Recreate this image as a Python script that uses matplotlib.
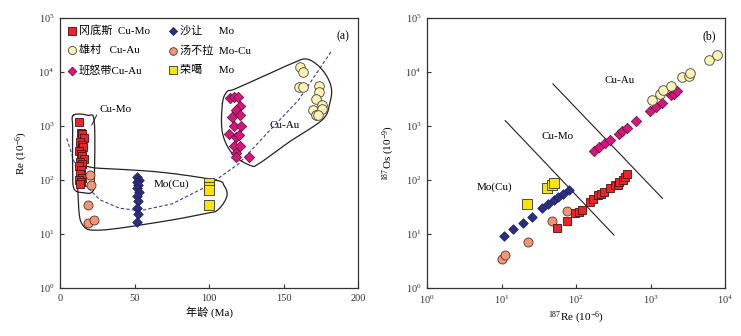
import numpy as np
import matplotlib
matplotlib.use("Agg")
import matplotlib.pyplot as plt

plt.rcParams['font.family'] = ['Liberation Serif', 'Noto Sans CJK SC']
plt.rcParams['mathtext.fontset'] = 'custom'
plt.rcParams['mathtext.rm'] = 'Liberation Serif'
plt.rcParams['mathtext.it'] = 'Liberation Serif'

# ---------------- Panel (a) data: age (Ma) vs Re (ppm) ----------------
gds_age = [13, 14, 15, 16, 13.5, 14.5, 15.5, 13, 14, 15, 16, 13.5, 14.5, 13, 14, 13.5, 14.5, 13, 14, 13.5]
gds_re = [1200, 750, 700, 600, 500, 450, 400, 350, 300, 280, 250, 220, 200, 180, 150, 130, 110, 100, 90, 85]

sr_age = [52, 53, 51.5, 52.5, 52, 53, 52, 52.5, 52, 52.5, 52]
sr_re = [115, 100, 90, 80, 70, 60, 50, 40, 30, 23, 17]

xc_age = [161, 163, 160.4, 163, 173.8, 173.8, 172, 175.6, 170, 172, 176, 173]
xc_re = [12600, 9800, 5250, 5250, 5500, 4200, 3100, 2400, 2000, 1600, 2100, 1620]

tbl_age = [20, 20.5, 19, 19, 23]
tbl_re = [123, 80, 35, 16, 18]

bnd_age = [114, 117, 119.6, 121, 118, 120.5, 115.6, 116.7, 121.8, 113.5, 118.2, 120.4, 117, 121, 118, 126.7, 118]
bnd_re = [3240, 3470, 3470, 2340, 2000, 1580, 1480, 980, 980, 720, 630, 680, 420, 420, 310, 270, 270]

rg_age = [100, 100, 100, 100]
rg_re = [88, 75, 65, 34]

# guide curve (a)
curve_age = [4.5, 13.4, 26.8, 40, 53.7, 75, 98.5, 120, 138.7, 160, 182]
curve_re = [590, 100, 43, 30, 27, 36, 76, 200, 720, 3000, 24000]

# outlines (a): (age, Re)
cumo_outline = [(9, 1580), (18.5, 1580), (23, 1200), (23, 100), (21.5, 60), (16, 58),
                (9.5, 68), (8.5, 150), (8.5, 900)]
mo_outline = [(13, 166), (26, 165), (67, 140), (104, 100), (110, 80), (112, 50), (106, 28),
              (98, 24), (67, 16.7), (27, 11.8), (15, 15), (12.3, 43)]
cuau_outline = [(109, 2600), (112, 4300), (117, 4800), (136, 8200), (156, 14500), (166, 17300),
                (176, 11000), (182, 5300), (181, 2600), (176, 1300), (154, 510), (134, 205),
                (128, 185), (116, 300), (109, 750)]

# ---------------- Panel (b) data: log10(187Re), log10(187Os) ----------------
b_sr = [(1.04, 0.96), (1.16, 1.09), (1.29, 1.21), (1.41, 1.32), (1.55, 1.48), (1.63, 1.56),
        (1.70, 1.63), (1.76, 1.69), (1.83, 1.75), (1.90, 1.81)]
b_rg = [(1.34, 1.56), (1.61, 1.85), (1.68, 1.90), (1.70, 1.95)]
b_tbl = [(1.01, 0.53), (1.05, 0.61), (1.35, 0.86), (1.68, 1.24), (1.88, 1.43)]
b_gds = [(1.75, 1.11), (1.88, 1.25), (1.99, 1.38), (2.04, 1.41), (2.08, 1.45), (2.19, 1.60),
         (2.23, 1.64), (2.30, 1.72), (2.33, 1.74), (2.37, 1.78), (2.46, 1.85), (2.52, 1.91),
         (2.57, 1.91), (2.58, 1.97), (2.63, 2.00), (2.66, 2.06), (2.68, 2.11)]
b_bnd = [(2.24, 2.54), (2.31, 2.62), (2.39, 2.69), (2.46, 2.75), (2.58, 2.86), (2.62, 2.90),
         (2.68, 2.96), (2.81, 3.10), (2.99, 3.27), (3.07, 3.35), (3.15, 3.42), (3.28, 3.57),
         (3.31, 3.59), (3.35, 3.64)]
b_xc = [(3.02, 3.48), (3.13, 3.59), (3.17, 3.66), (3.28, 3.74), (3.42, 3.90), (3.52, 3.93),
        (3.53, 3.98), (3.78, 4.22), (3.89, 4.31)]
b_line1 = [(1.05, 3.10), (2.51, 0.98)]
b_line2 = [(1.69, 3.78), (3.16, 1.66)]

styles = {
    'gds': dict(marker='s', s=40, c='#e8262a', edgecolors='#4a1010', linewidths=0.6),
    'sr': dict(marker='D', s=24, c='#2a2f85', edgecolors='#1a1d55', linewidths=0.5),
    'xc': dict(marker='o', s=48, c='#fcf2b2', edgecolors='#444444', linewidths=0.6),
    'tbl': dict(marker='o', s=42, c='#f0967a', edgecolors='#5a3020', linewidths=0.6),
    'bnd': dict(marker='D', s=28, c='#d6157f', edgecolors='#50102e', linewidths=0.5),
    'rg': dict(marker='s', s=42, c='#f8e600', edgecolors='#333333', linewidths=0.6),
}


def smooth_closed(ax, pts):
    p = np.array(pts, dtype=float)
    p[:, 1] = np.log10(p[:, 1])
    n = len(p)
    out = []
    for i in range(n):
        p0, p1, p2, p3 = p[i - 1], p[i], p[(i + 1) % n], p[(i + 2) % n]
        for t in np.linspace(0, 1, 12, endpoint=False):
            t2, t3 = t * t, t * t * t
            out.append(0.5 * ((2 * p1) + (-p0 + p2) * t + (2 * p0 - 5 * p1 + 4 * p2 - p3) * t2
                              + (-p0 + 3 * p1 - 3 * p2 + p3) * t3))
    out.append(out[0])
    out = np.array(out)
    out[:, 1] = 10 ** out[:, 1]
    ax.plot(out[:, 0], out[:, 1], color='#222222', lw=0.9, zorder=1)


fig = plt.figure(figsize=(7.41, 3.36), dpi=100)
axa = fig.add_axes([60 / 741, 48 / 336, 298 / 741, 270 / 336])
axb = fig.add_axes([427 / 741, 48 / 336, 298 / 741, 270 / 336])

for ax in (axa, axb):
    ax.tick_params(direction='in', length=3, width=0.8, labelsize=7.5, colors='#333333',
                   which='major', pad=4)
    ax.tick_params(which='minor', length=0)
    for sp in ax.spines.values():
        sp.set_linewidth(0.9)
        sp.set_color('#333333')

# ---- Panel (a) ----
axa.set_yscale('log')
axa.set_xlim(0, 200)
axa.set_ylim(1, 1e5)
axa.set_xticks([0, 50, 100, 150, 200])
axa.set_yticks([1, 10, 100, 1000, 1e4, 1e5])
axa.set_yticklabels([r'$10^{%d}$' % i for i in range(6)])
axa.minorticks_off()

axa.plot(curve_age, curve_re, ls=(0, (3, 2)), color='#3a3aa0', lw=0.8, zorder=1)

smooth_closed(axa, cumo_outline)
smooth_closed(axa, mo_outline)
smooth_closed(axa, cuau_outline)

h1 = axa.scatter(gds_age, gds_re, label='冈底斯  Cu-Mo', zorder=3, **styles['gds'])
h4 = axa.scatter(sr_age, sr_re, label='沙让      Mo', zorder=3, **styles['sr'])
h2 = axa.scatter(xc_age, xc_re, label='雄村   Cu-Au', zorder=3, **styles['xc'])
h5 = axa.scatter(tbl_age, tbl_re, label='汤不拉  Mo-Cu', zorder=3, **styles['tbl'])
h3 = axa.scatter(bnd_age, bnd_re, label='班怒带Cu-Au', zorder=3, **styles['bnd'])
h6 = axa.scatter(rg_age, rg_re, label='荣噶      Mo', zorder=3, **styles['rg'])

leg = axa.legend(handles=[h1, h2, h3, h4, h5, h6], ncol=2, loc='upper left', frameon=False,
                 fontsize=8, handletextpad=0.1, columnspacing=1.6, borderaxespad=0.2,
                 labelspacing=0.85, handlelength=1.0, scatterpoints=1, markerscale=0.85)

axa.text(37, 2000, 'Cu-Mo', fontsize=8, ha='center', va='center')
axa.plot([24.6, 21.3], [1590, 1040], color='#222222', lw=0.7)
axa.text(75, 82, 'Mo(Cu)', fontsize=8, ha='center', va='center')
axa.text(151, 1000, 'Cu-Au', fontsize=8, ha='center', va='center')
axa.text(0.97, 0.955, '(a)', transform=axa.transAxes, fontsize=8.5, ha='right', va='top')
axa.set_ylabel(r'Re (10$^{-6}$)', fontsize=8, labelpad=6)
axa.set_xlabel('年龄 (Ma)', fontsize=8, labelpad=3)

# ---- Panel (b) ----
axb.set_xscale('log')
axb.set_yscale('log')
axb.set_xlim(1, 1e4)
axb.set_ylim(1, 1e5)
axb.set_xticks([1, 10, 100, 1000, 1e4])
axb.set_xticklabels([r'$10^{%d}$' % i for i in range(5)])
axb.set_yticks([1, 10, 100, 1000, 1e4, 1e5])
axb.set_yticklabels([r'$10^{%d}$' % i for i in range(6)])
axb.minorticks_off()


def P(pts):
    a = np.array(pts)
    return 10 ** a[:, 0], 10 ** a[:, 1]


for seg in (b_line1, b_line2):
    x, y = P(seg)
    axb.plot(x, y, color='#222222', lw=0.8, zorder=1)

for key, pts in (('sr', b_sr), ('tbl', b_tbl), ('rg', b_rg), ('gds', b_gds), ('bnd', b_bnd), ('xc', b_xc)):
    x, y = P(pts)
    axb.scatter(x, y, zorder=3, **styles[key])

axb.text(10 ** 2.59, 10 ** 3.84, 'Cu-Au', fontsize=8, ha='center', va='center')
axb.text(10 ** 1.75, 10 ** 2.81, 'Cu-Mo', fontsize=8, ha='center', va='center')
axb.text(10 ** 0.91, 10 ** 1.86, 'Mo(Cu)', fontsize=8, ha='center', va='center')
axb.text(0.97, 0.955, '(b)', transform=axb.transAxes, fontsize=8.5, ha='right', va='top')
axb.set_ylabel(r'$^{187}$Os (10$^{-9}$)', fontsize=8, labelpad=6)
axb.set_xlabel(r'$^{187}$Re (10$^{-6}$)', fontsize=8, labelpad=3)

fig.savefig('out.png', dpi=100)
